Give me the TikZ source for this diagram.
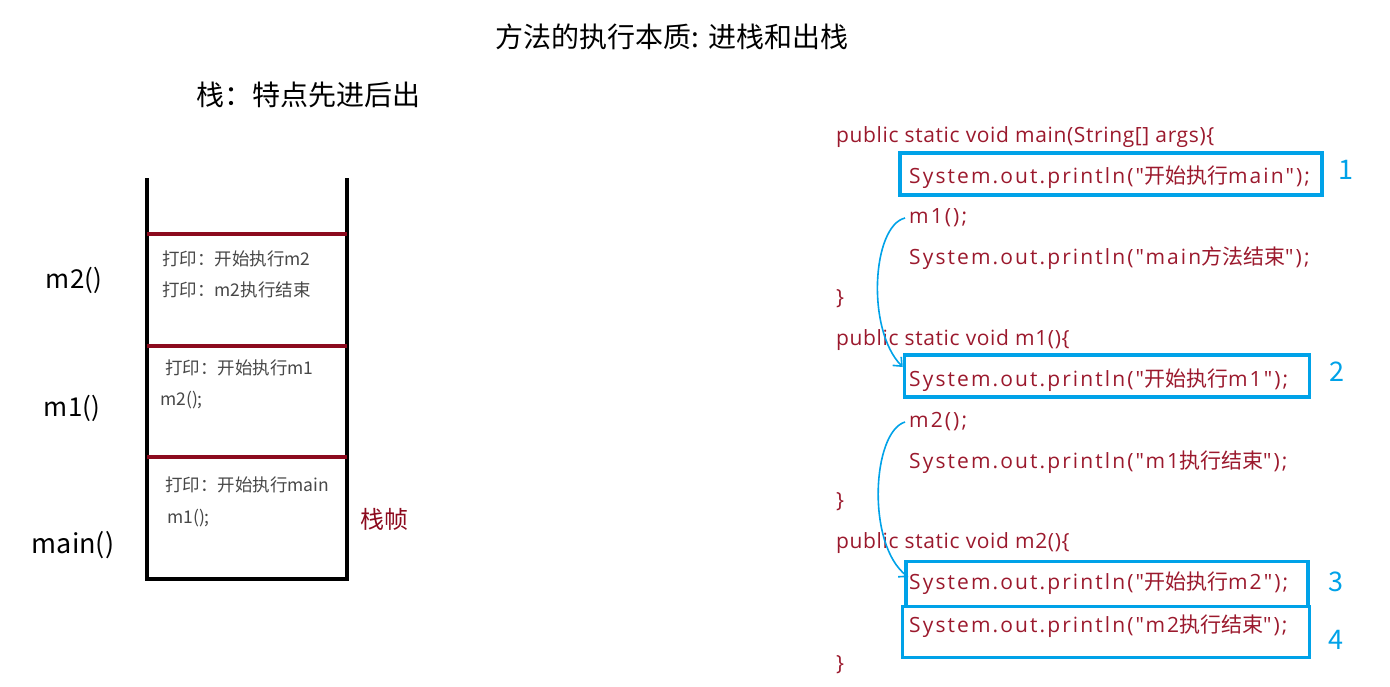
\documentclass[tikz,border=0pt]{standalone}
\usepackage{fontspec}
\setmainfont{Noto Sans CJK SC}
\newfontfamily\codefont{Open Sans}[LetterSpace=3]
\newfontfamily\stmtfont{Open Sans}[LetterSpace=10]
\newfontfamily\cjk{Noto Sans CJK SC}
\usetikzlibrary{arrows.meta}
\definecolor{codered}{RGB}{155,25,45}
\definecolor{framered}{RGB}{140,10,30}
\definecolor{markblue}{RGB}{0,162,232}
\begin{document}
\begin{tikzpicture}
  [x=1pt,y=1pt,
   codeline/.style={anchor=west,inner sep=0pt,yshift=-2pt,text=codered,font=\fontsize{21}{24}\codefont},
   stmtline/.style={codeline,font=\fontsize{21}{24}\stmtfont},
   frametext/.style={anchor=west,inner sep=0pt,text=black!72,font=\fontsize{17.5}{20}\selectfont},
   methodname/.style={inner sep=0pt,font=\fontsize{26}{30}\selectfont},
   markbox/.style={draw=markblue,line width=3.5pt,inner sep=0pt},
   marknum/.style={inner sep=0pt,text=markblue,font=\fontsize{27}{30}\selectfont},
   calltip/.style={draw=markblue,line width=1.6pt,-{Straight Barb[length=7pt,width=12pt]}}]
  \useasboundingbox (0,0) rectangle (1390,-686);
  % headings
  \node[inner sep=0pt,font=\fontsize{28}{32}\selectfont] (title) at (672,-37) {方法的执行本质: 进栈和出栈};
  \node[inner sep=0pt,font=\fontsize{28}{32}\selectfont] (rule) at (308,-95) {栈：特点先进后出};
  % the stack
  \draw[line width=4pt] (147,-178) -- (147,-579) -- (347,-579) -- (347,-178);
  \foreach \y in {234,346,457}
    \draw[framered,line width=3.5pt] (147,-\y) -- (347,-\y);
  \node[frametext] (f3a) at (162,-259) {打印：开始执行m2};
  \node[frametext] (f3b) at (162,-290) {打印：m2执行结束};
  \node[frametext] (f2a) at (165,-368) {打印：开始执行m1};
  \node[frametext] (f2b) at (160,-400) {m2();};
  \node[frametext] (f1a) at (165,-485) {打印：开始执行main};
  \node[frametext] (f1b) at (167,-518) {m1();};
  \node[methodname] (m2name) at (74,-280) {m2()};
  \node[methodname] (m1name) at (72,-408) {m1()};
  \node[methodname,font=\fontsize{27}{30}\selectfont] (mainname) at (73,-545) {main()};
  \node[inner sep=0pt,text=framered,font=\fontsize{24}{28}\selectfont] (framelbl) at (384,-519) {栈帧};
  % the code
  \node[codeline] (sig1) at (836,-135) {public static void main(String[] args)\{};
  \node[stmtline] (pr1) at (909,-175) {System.out.println("{\cjk 开始执行}main");};
  \node[stmtline] (call1) at (909,-216) {m1();};
  \node[stmtline] (end1) at (909,-256) {System.out.println("main{\cjk 方法结束}");};
  \node[codeline] (close1) at (836,-297) {\}};
  \node[codeline] (sig2) at (836,-338) {public static void m1()\{};
  \node[stmtline] (pr2) at (909,-378) {System.out.println("{\cjk 开始执行}m1");};
  \node[stmtline] (call2) at (909,-420) {m2();};
  \node[stmtline] (end2) at (909,-460) {System.out.println("m1{\cjk 执行结束}");};
  \node[codeline] (close2) at (836,-500) {\}};
  \node[codeline] (sig3) at (836,-541) {public static void m2()\{};
  \node[stmtline] (pr3) at (909,-581) {System.out.println("{\cjk 开始执行}m2");};
  \node[stmtline] (pr4) at (909,-624) {System.out.println("m2{\cjk 执行结束}");};
  \node[codeline] (close3) at (836,-663) {\}};
  % marked statements
  \node[markbox,minimum width=422,minimum height=42] (box1) at (1111,-174) {};
  \node[markbox,minimum width=405,minimum height=42] (box2) at (1107,-376) {};
  \node[markbox,minimum width=402,minimum height=45] (box3) at (1107,-584) {};
  \node[markbox,minimum width=407,minimum height=51] (box4) at (1106,-632) {};
  \node[marknum] (n1) at (1346,-170) {1};
  \node[marknum] (n2) at (1337,-372) {2};
  \node[marknum] (n3) at (1336,-582) {3};
  \node[marknum] (n4) at (1336,-640) {4};
  % calls
  \draw[calltip] ([xshift=-4pt]call1.west) .. controls (872,-226) and (866,-330) .. ([yshift=9pt]box2.west);
  \draw[calltip] ([xshift=-4pt]call2.west) .. controls (872,-432) and (866,-545) .. ([xshift=4pt,yshift=7pt]box3.west);
\end{tikzpicture}
\end{document}
